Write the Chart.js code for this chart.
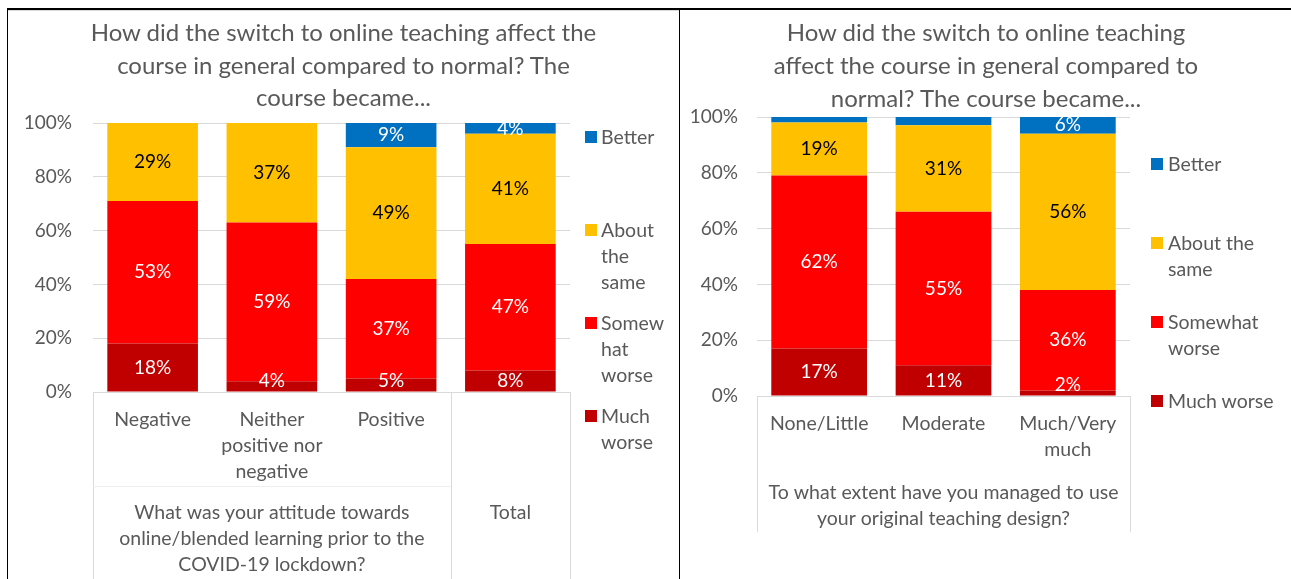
<!DOCTYPE html>
<html>
<head>
<meta charset="utf-8">
<script src="https://cdn.jsdelivr.net/npm/chart.js@4.4.0/dist/chart.umd.min.js"></script>
<style>
  body { margin: 0; background: #fff; width: 1291px; height: 579px; overflow: hidden; position: relative; font-family: Lato, sans-serif; }
  .rule { position: absolute; background: #000; }
  .panel { position: absolute; top: 10px; height: 569px; }
  .panel canvas { position: absolute; left: 0; top: 0; }
  .title { position: absolute; left: 0; right: 0; text-align: center; color: #595959; font-size: 24px; white-space: nowrap; }
  .legend { position: absolute; color: #595959; font-size: 19.5px; line-height: 26px; }
  .legend .item { position: absolute; left: 0; white-space: nowrap; }
  .legend .box { position: absolute; width: 12px; height: 12px; top: 7px; left: 0; }
  .legend .txt { position: absolute; top: 0; }
</style>
</head>
<body>
<div class="rule" style="left:7px;top:8px;width:1284px;height:2px"></div>
<div class="rule" style="left:7px;top:8px;width:1px;height:571px"></div>
<div class="rule" style="left:679px;top:8px;width:1px;height:571px"></div>

<div class="panel" id="panelA" style="left:8px;width:671px;border-top:1px solid #D9D9D9;box-sizing:border-box">
  <canvas id="chartA"></canvas>
  <div class="title" id="titleA" style="top:5px;line-height:32.5px"></div>
  <div class="legend" id="legendA" style="left:577px;top:113px"></div>
</div>
<div class="panel" id="panelB" style="left:681px;width:610px">
  <canvas id="chartB"></canvas>
  <div class="title" id="titleB" style="top:5px;line-height:33px"></div>
  <div class="legend" id="legendB" style="left:470px;top:141px"></div>
</div>

<script>
// ---- data ----
const seriesNames = ['Much worse', 'Somewhat worse', 'About the same', 'Better'];
const seriesColors = ['#C00000', '#FF0000', '#FFC000', '#0070C0'];
const labelColors = ['#FFFFFF', '#FFFFFF', '#000000', '#FFFFFF'];

// left chart: attitude before lockdown
const titleA = ['How did the switch to online teaching affect the', 'course in general compared to normal? The', 'course became...'];
const catsA = [['Negative'], ['Neither', 'positive nor', 'negative'], ['Positive'], ['']];
const groupsA = [
  { text: ['What was your attitude towards', 'online/blended learning prior to the', 'COVID-19 lockdown?'], first: 0, last: 2 },
  { text: ['Total'], first: 3, last: 3 }
];
const muchWorseA = [18, 4, 5, 8];
const somewhatWorseA = [53, 59, 37, 47];
const aboutSameA = [29, 37, 49, 41];
const betterA = [0, 0, 9, 4];
const legendA = [['Better'], ['About', 'the', 'same'], ['Somew', 'hat', 'worse'], ['Much', 'worse']];

// right chart: use of original teaching design
const titleB = ['How did the switch to online teaching', 'affect the course in general compared to', 'normal? The course became...'];
const catsB = [['None/Little'], ['Moderate'], ['Much/Very', 'much']];
const groupsB = [
  { text: ['To what extent have you managed to use', 'your original teaching design?'], first: 0, last: 2 }
];
const muchWorseB = [17, 11, 2];
const somewhatWorseB = [62, 55, 36];
const aboutSameB = [19, 31, 56];
const betterB = [2, 3, 6];
const legendB = [['Better'], ['About the', 'same'], ['Somewhat', 'worse'], ['Much worse']];

const grey = '#595959';
const gridGrey = '#D9D9D9';
const fontFam = 'Lato, sans-serif';

// value labels in the middle of each segment
const barLabels = {
  id: 'barLabels',
  afterDatasetsDraw(chart) {
    const ctx = chart.ctx;
    const base = chart.scales.y.getPixelForValue(0);
    chart.data.datasets.forEach((ds, i) => {
      const meta = chart.getDatasetMeta(i);
      meta.data.forEach((bar, j) => {
        const v = ds.data[j];
        if (!v || v < ds.minLabel) return;
        let y = (bar.y + bar.base) / 2;
        y = Math.min(y, base - 11);
        ctx.save();
        ctx.fillStyle = ds.labelColor;
        ctx.font = '19px ' + fontFam;
        ctx.textAlign = 'center';
        ctx.textBaseline = 'middle';
        ctx.fillText(v + '%', bar.x, y);
        ctx.restore();
      });
    });
  }
};

// excel style multi level category box under the bars
const categoryBox = {
  id: 'categoryBox',
  afterDraw(chart, args, opts) {
    const ctx = chart.ctx;
    const area = chart.chartArea;
    const x = chart.scales.x;
    const n = chart.data.labels.length;
    const edge = i => i <= 0 ? x.left : i >= n ? x.right : (x.getPixelForValue(i - 1) + x.getPixelForValue(i)) / 2;
    const bottom = area.bottom + opts.depth;
    ctx.save();
    ctx.lineWidth = 1;
    ctx.strokeStyle = gridGrey;
    ctx.beginPath();
    ctx.moveTo(x.left, area.bottom + 0.5);
    ctx.lineTo(x.right, area.bottom + 0.5);
    const cuts = new Set([0, n]);
    opts.groups.forEach(g => { cuts.add(g.first); cuts.add(g.last + 1); });
    cuts.forEach(i => {
      const px = Math.round(edge(i)) + 0.5;
      ctx.moveTo(px, area.bottom);
      ctx.lineTo(px, bottom);
    });
    ctx.stroke();
    if (opts.sep) {
      ctx.strokeStyle = '#EFEFEF';
      ctx.beginPath();
      ctx.moveTo(edge(opts.groups[0].first), area.bottom + opts.sep + 0.5);
      ctx.lineTo(edge(opts.groups[0].last + 1), area.bottom + opts.sep + 0.5);
      ctx.stroke();
    }
    ctx.fillStyle = grey;
    ctx.font = '19.5px ' + fontFam;
    ctx.textAlign = 'center';
    ctx.textBaseline = 'middle';
    opts.groups.forEach(g => {
      const cx = (edge(g.first) + edge(g.last + 1)) / 2;
      g.text.forEach((t, k) => ctx.fillText(t, cx, area.bottom + opts.textTop + k * 26));
    });
    ctx.restore();
  }
};

function makeChart(id, w, cats, series, groups, cfg) {
  const canvas = document.getElementById(id);
  canvas.width = w;
  canvas.height = 569;
  canvas.style.width = w + 'px';
  canvas.style.height = '569px';
  const datasets = series.map((vals, i) => ({
    label: seriesNames[i],
    data: vals,
    backgroundColor: seriesColors[i],
    labelColor: labelColors[i],
    minLabel: i === 3 ? 4 : 1,
    borderWidth: 0,
    barPercentage: cfg.bar,
    categoryPercentage: 1
  }));
  return new Chart(canvas, {
    type: 'bar',
    data: { labels: cats, datasets: datasets },
    options: {
      responsive: false,
      animation: false,
      layout: { padding: { left: 0, right: cfg.right, top: cfg.top, bottom: 0 } },
      plugins: {
        legend: { display: false },
        tooltip: { enabled: false },
        categoryBox: { groups: groups, depth: cfg.depth, textTop: cfg.groupTop, sep: cfg.sep }
      },
      scales: {
        x: {
          stacked: true,
          grid: { display: false, drawTicks: false },
          border: { display: false },
          ticks: {
            color: grey,
            font: { family: fontFam, size: 19.5, lineHeight: '26px' },
            padding: cfg.tickPad,
            maxRotation: 0,
            autoSkip: false
          },
          afterFit: s => { s.height = cfg.xh; }
        },
        y: {
          stacked: true,
          min: 0,
          max: 100,
          grid: { color: gridGrey, drawTicks: false },
          border: { display: false },
          ticks: {
            stepSize: 20,
            color: grey,
            font: { family: fontFam, size: 19 },
            padding: cfg.yPad,
            callback: v => v + '%'
          },
          afterFit: s => { s.width = cfg.yw; }
        }
      }
    },
    plugins: [barLabels, categoryBox]
  });
}

function makeTitle(id, lines) {
  document.getElementById(id).innerHTML = lines.join('<br>');
}

function makeLegend(id, lines, step, gap) {
  const box = document.getElementById(id);
  // Better first, Much worse last
  for (let k = 0; k < 4; k++) {
    const s = 3 - k;
    const item = document.createElement('div');
    item.className = 'item';
    item.style.top = (k * step) + 'px';
    const sq = document.createElement('div');
    sq.className = 'box';
    sq.style.background = seriesColors[s];
    const tx = document.createElement('div');
    tx.className = 'txt';
    tx.style.left = gap + 'px';
    tx.innerHTML = lines[k].join('<br>');
    item.appendChild(sq);
    item.appendChild(tx);
    box.appendChild(item);
  }
}

makeChart('chartA', 671, catsA, [muchWorseA, somewhatWorseA, aboutSameA, betterA], groupsA,
  { bar: 0.76, right: 109, top: 112, xh: 188, yw: 85, yPad: 21, tickPad: 15, depth: 188, groupTop: 121, sep: 94 });
makeChart('chartB', 610, catsB, [muchWorseB, somewhatWorseB, aboutSameB, betterB], groupsB,
  { bar: 0.77, right: 161, top: 107, xh: 183, yw: 76, yPad: 19, tickPad: 15, depth: 136, groupTop: 97, sep: 0 });

makeTitle('titleA', titleA);
makeTitle('titleB', titleB);
makeLegend('legendA', legendA, 93, 16);
makeLegend('legendB', legendB, 79, 17);
</script>
</body>
</html>
